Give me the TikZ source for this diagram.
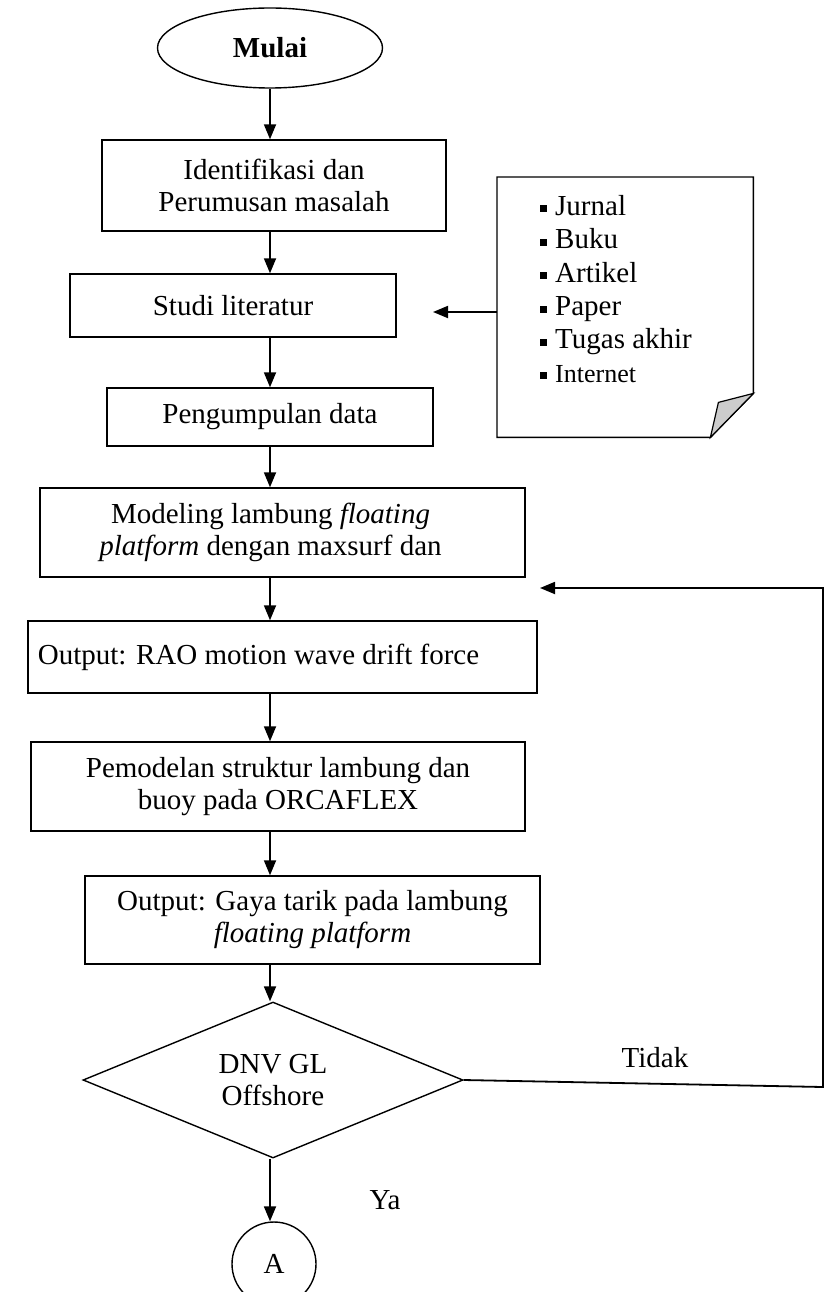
\documentclass[tikz,border=0pt]{standalone}
\usepackage{fontspec}
\setmainfont{Liberation Serif}
\usetikzlibrary{arrows.meta,positioning,shapes.geometric}

\newcommand{\sqbullet}{\rule[3pt]{7pt}{7pt}\hspace{8pt}}

\begin{document}
\begin{tikzpicture}[x=1pt, y=-1pt,
    every node/.style={font=\fontsize{29}{32}\selectfont},
    box/.style={draw, line width=1.4pt, inner sep=0pt, align=center},
    flowarrow/.style={line width=1.8pt, -{Triangle[length=15pt, width=12pt]}}]
            \useasboundingbox (0,0) rectangle (829,1292);

            % Main column
            \node[box, ellipse, minimum width=225, minimum height=80] (mulai) at (270,48) {\textbf{Mulai}};
            \node[box, minimum width=344, minimum height=91] (idf) at (274,185.5) {Identifikasi dan\\Perumusan masalah};
            \node[box, minimum width=326, minimum height=63] (studi) at (233,305.5) {Studi literatur};
            \node[box, minimum width=326, minimum height=58] (data) at (270,417) {Pengumpulan data};
            \node[box, minimum width=485, minimum height=89] (model) at (282.5,532.5) {};
            \node[align=center] (modeltext) at ([xshift=-12pt]model.center) {Modeling lambung \textit{floating}\\\textit{platform} dengan maxsurf dan};
            \node[box, minimum width=509, minimum height=72] (rao) at (282.5,657) {};
            \node (raotext) at ([xshift=-24pt]rao.center) {Output: RAO motion wave drift force};
            \node[box, minimum width=494, minimum height=89] (pem) at (278,786.5) {Pemodelan struktur lambung dan\\buoy pada ORCAFLEX};
            \node[box, minimum width=455, minimum height=88] (gaya) at (312.5,920) {Output: Gaya tarik pada lambung\\\textit{floating platform}};
            \node[box, diamond, aspect=2.5, minimum width=380, minimum height=156] (dnv) at (273,1080) {DNV GL\\Offshore};
            \node[box, ellipse, minimum width=84, minimum height=84] (conA) at (274,1264) {A};

            % Literature sources (folded note)
            \node[minimum width=256, minimum height=260, anchor=north west, inner sep=0pt] (note) at (497,177) {};
            \draw[line width=1.4pt] (note.north west) -- (note.north east) -- ([yshift=44pt]note.south east)
                -- ([xshift=-43pt]note.south east) -- (note.south west) -- cycle;
            \draw[line width=1.2pt, fill=gray!40] ([xshift=-43pt]note.south east) -- ([yshift=44pt]note.south east)
                -- ([xshift=-35pt, yshift=35pt]note.south east) -- cycle;
            \node[anchor=north west, align=left, inner sep=0pt, font=\fontsize{29}{33.4}\selectfont] (refs) at (540,195) {%
                \sqbullet Jurnal\\ \sqbullet Buku\\ \sqbullet Artikel\\ \sqbullet Paper\\ \sqbullet Tugas akhir\\
                {\fontsize{26}{33.4}\selectfont\sqbullet Internet}};

            % Edges
            \coordinate (col) at (270,0);
            \foreach \a/\b in {mulai/idf, idf/studi, studi/data, data/model, model/rao, rao/pem, pem/gaya, gaya/dnv, dnv/conA} {
                \draw[flowarrow] (col |- \a.south) -- (col |- \b.north);
            }
            \coordinate (lit) at (433,312);
            \draw[flowarrow] (note.west |- lit) -- (lit);

            % Loop back (Tidak)
            \coordinate (turnA) at (823,1087);
            \coordinate (turnB) at (823,588);
            \coordinate (back) at (540,588);
            \draw[flowarrow] (dnv.east) -- (turnA) -- (turnB) -- (back);

            % Labels
            \node (tidak) at (655,1058) {Tidak};
            \node (ya) at (385,1200) {Ya};
        \end{tikzpicture}
\end{document}
